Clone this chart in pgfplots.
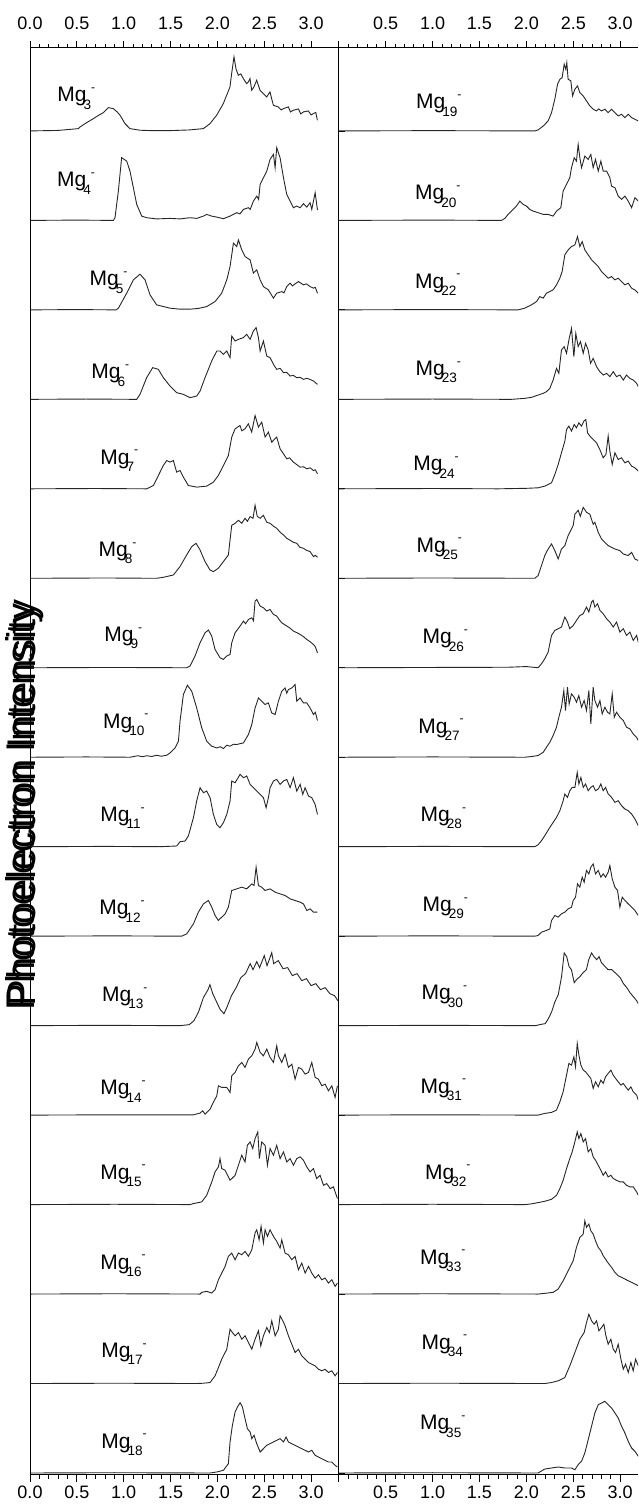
\documentclass[border=0pt]{standalone}
\usepackage{pgfplots}
\pgfplotsset{compat=1.18}
\usepackage{fontspec}
\setmainfont{Liberation Sans}
\newcommand{\mg}[1]{Mg\kern-1.5pt\raisebox{-3.6pt}{\fontsize{6.8}{7}\selectfont #1}\raisebox{5.2pt}{\fontsize{6}{7}\selectfont -}}
\newcommand{\spec}[2]{\addplot[black!85, line width=0.45pt, no marks] table[header=false,row sep=\\,y expr=\thisrowno{1}+#1]{#2};}
\pgfplotsset{
  base/.style={scale only axis, height=713.5pt, ymin=-2, ymax=1425,
    tick align=outside, major tick length=3.5pt, minor tick length=2pt,
    minor x tick num=4, axis line style={line width=0.5pt},
    every tick/.style={black, line width=0.4pt},
    xticklabel style={font=\fontsize{9}{10}\selectfont, inner sep=1pt},
    anchor=south west, clip=true},
  colL/.style={base, at={(15pt,17.5pt)}, width=154pt, xmin=0, xmax=3.287,
    xtick={0,0.5,1,1.5,2,2.5,3}, xticklabels={0.0,0.5,1.0,1.5,2.0,2.5,3.0}},
  colR/.style={base, at={(169pt,17.5pt)}, width=150pt, xmin=-0.0085, xmax=3.19,
    xtick={0,0.5,1,1.5,2,2.5,3}, xticklabels={,0.5,1.0,1.5,2.0,2.5,3.0},
    axis x line*=box, axis y line*=left, ytick=\empty},
  lowlab/.style={xticklabel style={yshift=-1pt}},
  toplab/.style={xticklabel pos=upper, xticklabel style={yshift=4.5pt}},
}
\begin{document}
\begin{tikzpicture}[x=1pt,y=1pt]
\useasboundingbox (0,0) rectangle (319,755);
% y label (drawn twice, slightly offset, as in the reference)
\node[rotate=90, inner sep=0, font=\fontsize{20}{22}\selectfont] at (12,351.5) {Photoelectron Intensity};
\node[rotate=90, inner sep=0, font=\fontsize{20}{22}\selectfont] at (12.6,353.5) {Photoelectron Intensity};
% ---------------- left column ----------------
\begin{axis}[colL, lowlab, ytick={0,89.47,178.94,268.41,357.88,447.35,536.82,626.29,715.76,805.23,894.7,984.17,1073.64,1163.11,1252.58,1342.05}, ytick pos=right, yticklabels={}]
\spec{1342.05}{0 0\\ 0.3 0.5\\ 0.516 2.3\\ 0.534 4\\ 0.6 8\\ 0.676 12.3\\ 0.73 15.5\\ 0.783 18.3\\ 0.836 23.3\\ 0.889 22.3\\ 0.93 19\\ 0.961 15.7\\ 1.014 7.3\\ 1.067 2.3\\ 1.174 0.7\\ 1.3 0.3\\ 1.494 0.3\\ 1.7 1\\ 1.85 2.3\\ 1.921 7.3\\ 1.992 15.7\\ 2.063 27.3\\ 2.134 44\\ 2.152 57.3\\ 2.177 74\\ 2.198 62.3\\ 2.223 55.7\\ 2.25 57\\ 2.277 52.3\\ 2.312 47.3\\ 2.33 49\\ 2.348 52.3\\ 2.366 40.7\\ 2.39 44\\ 2.419 50.7\\ 2.455 40.7\\ 2.49 37.3\\ 2.526 34\\ 2.561 39\\ 2.597 25.7\\ 2.65 24\\ 2.68 21\\ 2.704 22.3\\ 2.757 24\\ 2.78 19\\ 2.81 20.7\\ 2.864 22\\ 2.89 17\\ 2.917 19\\ 2.97 20\\ 3.0 16\\ 3.024 17.3\\ 3.05 18.5\\ 3.067 10.7\\}
\spec{1252.58}{0 0\\ 0.5 0.3\\ 0.89 0\\ 0.907 2.7\\ 0.943 29.3\\ 0.978 62.7\\ 1.032 59.3\\ 1.067 49.3\\ 1.103 32.7\\ 1.139 16\\ 1.192 4.3\\ 1.245 2.7\\ 1.35 1.5\\ 1.494 2\\ 1.6 1.5\\ 1.708 2.7\\ 1.78 2\\ 1.85 4.3\\ 1.886 6\\ 1.939 4.3\\ 1.993 3.3\\ 2.064 1.7\\ 2.135 4.3\\ 2.206 7.7\\ 2.24 6.5\\ 2.278 11\\ 2.331 12.7\\ 2.35 11\\ 2.384 19.3\\ 2.42 24.3\\ 2.44 21\\ 2.456 36\\ 2.491 42.7\\ 2.527 49.3\\ 2.562 61\\ 2.598 66\\ 2.616 52.7\\ 2.633 72.7\\ 2.669 62.7\\ 2.705 42.7\\ 2.74 26\\ 2.776 19.3\\ 2.811 12.7\\ 2.847 14.3\\ 2.883 12.7\\ 2.918 16.7\\ 2.954 13.3\\ 2.989 17.7\\ 3.007 11\\ 3.043 27.7\\ 3.068 10.3\\}
\spec{1163.11}{0 0\\ 0.5 0.3\\ 0.92 0\\ 0.943 1.7\\ 1.032 16.7\\ 1.103 30\\ 1.174 35.7\\ 1.228 30\\ 1.281 15\\ 1.352 5\\ 1.494 1.7\\ 1.6 0.7\\ 1.708 0.7\\ 1.8 1.5\\ 1.886 3.3\\ 1.975 8.3\\ 2.046 16.7\\ 2.1 30\\ 2.135 43.3\\ 2.171 66.7\\ 2.206 63.3\\ 2.224 70\\ 2.26 60\\ 2.295 53.3\\ 2.349 50\\ 2.384 36.7\\ 2.42 40\\ 2.456 30\\ 2.491 23.3\\ 2.544 20\\ 2.598 11.7\\ 2.633 16.7\\ 2.687 18.3\\ 2.71 17\\ 2.74 23.3\\ 2.776 26.7\\ 2.8 24\\ 2.829 26\\ 2.865 28.3\\ 2.918 25\\ 2.95 26\\ 2.989 23.3\\ 3.025 21.7\\ 3.045 22.5\\ 3.068 16.7\\}
\spec{1073.64}{0 0\\ 0.6 0.3\\ 1.139 0\\ 1.174 5\\ 1.245 21.7\\ 1.309 31.7\\ 1.37 30\\ 1.423 21.7\\ 1.494 13.3\\ 1.565 6.7\\ 1.637 5\\ 1.708 1.7\\ 1.779 3.3\\ 1.815 8.3\\ 1.868 21.7\\ 1.939 38.3\\ 1.993 48.3\\ 2.028 48.3\\ 2.064 45\\ 2.1 48.3\\ 2.135 41.7\\ 2.153 63.3\\ 2.189 58.3\\ 2.224 60\\ 2.278 61.7\\ 2.313 65\\ 2.349 60\\ 2.384 68.3\\ 2.413 71.7\\ 2.438 61.7\\ 2.456 48.3\\ 2.491 58.3\\ 2.527 43.3\\ 2.562 41.7\\ 2.598 35\\ 2.633 30\\ 2.67 31\\ 2.705 26.7\\ 2.74 27\\ 2.776 23.3\\ 2.81 24\\ 2.847 21.7\\ 2.883 22\\ 2.918 20\\ 2.954 21\\ 2.989 20\\ 3.025 18.3\\ 3.068 15\\}
\spec{984.17}{0 0\\ 0.7 0.3\\ 1.245 0\\ 1.317 3.3\\ 1.37 13.3\\ 1.423 23.3\\ 1.459 28.3\\ 1.494 26.7\\ 1.53 28.3\\ 1.565 16.7\\ 1.601 18.3\\ 1.637 11.7\\ 1.69 3.3\\ 1.779 1.7\\ 1.886 2.7\\ 1.957 6.7\\ 2.01 13.3\\ 2.064 23.3\\ 2.117 33.3\\ 2.153 51.7\\ 2.189 60\\ 2.241 63.3\\ 2.26 58\\ 2.295 60\\ 2.33 65\\ 2.366 56.7\\ 2.402 73.3\\ 2.438 61.7\\ 2.473 66.7\\ 2.509 51.7\\ 2.544 56.7\\ 2.58 46.7\\ 2.633 51.7\\ 2.669 40\\ 2.705 35\\ 2.74 30\\ 2.77 31\\ 2.811 26.7\\ 2.85 24\\ 2.883 21.7\\ 2.92 22\\ 2.954 20\\ 2.99 21\\ 3.025 18.3\\ 3.045 19\\ 3.068 15\\}
\spec{894.7}{0 0\\ 0.8 0.3\\ 1.352 0\\ 1.423 1\\ 1.53 3.3\\ 1.601 11.7\\ 1.672 23.3\\ 1.726 31.7\\ 1.772 35\\ 1.815 28.3\\ 1.868 16.7\\ 1.921 8.3\\ 1.957 6.7\\ 2.01 10\\ 2.064 16.7\\ 2.117 23.3\\ 2.135 38.3\\ 2.153 53\\ 2.19 55\\ 2.224 58\\ 2.26 55\\ 2.295 60\\ 2.32 57\\ 2.349 61.7\\ 2.38 60\\ 2.402 73\\ 2.425 62\\ 2.456 60\\ 2.491 63\\ 2.527 56\\ 2.562 55\\ 2.6 52\\ 2.633 50\\ 2.67 46\\ 2.705 43.3\\ 2.74 40\\ 2.776 38\\ 2.81 36\\ 2.847 35\\ 2.88 31\\ 2.918 30\\ 2.95 28\\ 2.989 26.7\\ 3.025 21.7\\ 3.045 23\\ 3.068 21\\}
\spec{805.23}{0 0\\ 0.9 0.3\\ 1.672 0\\ 1.708 1.7\\ 1.761 11.7\\ 1.815 25\\ 1.868 35\\ 1.904 37.7\\ 1.939 31.7\\ 1.975 18.3\\ 2.028 10\\ 2.064 8.3\\ 2.1 11.7\\ 2.135 13.3\\ 2.153 25\\ 2.189 35\\ 2.242 41.7\\ 2.278 46.7\\ 2.3 44\\ 2.331 48.3\\ 2.367 50\\ 2.385 47\\ 2.402 66.7\\ 2.42 68.3\\ 2.456 61.7\\ 2.491 60\\ 2.527 56.7\\ 2.562 58.3\\ 2.598 53.3\\ 2.633 51.7\\ 2.66 48\\ 2.687 45\\ 2.74 41.7\\ 2.77 40\\ 2.811 36.7\\ 2.85 35\\ 2.883 33.3\\ 2.92 31\\ 2.954 28.3\\ 2.99 26\\ 3.025 23.3\\ 3.045 21\\ 3.068 15\\}
\spec{715.76}{0 0\\ 0.6 0.3\\ 1.068 0\\ 1.15 1.5\\ 1.2 0.5\\ 1.245 1.5\\ 1.3 0.7\\ 1.35 2\\ 1.4 1\\ 1.459 2\\ 1.494 4.3\\ 1.548 9.3\\ 1.584 16\\ 1.601 36\\ 1.637 62.7\\ 1.68 72\\ 1.726 66\\ 1.779 49.3\\ 1.833 29.3\\ 1.886 16\\ 1.94 11\\ 1.993 9.3\\ 2.03 10.5\\ 2.064 8.7\\ 2.1 12\\ 2.135 11\\ 2.17 13\\ 2.206 12.7\\ 2.24 13.5\\ 2.278 14.3\\ 2.331 22.7\\ 2.367 32.7\\ 2.402 49.3\\ 2.438 59.3\\ 2.473 56\\ 2.509 52.7\\ 2.544 54.3\\ 2.58 44.3\\ 2.616 42.7\\ 2.651 56\\ 2.687 66\\ 2.722 69.3\\ 2.74 64\\ 2.758 67.7\\ 2.794 69.3\\ 2.829 72.7\\ 2.847 56\\ 2.883 59.3\\ 2.918 54.3\\ 2.954 54.3\\ 2.989 49.3\\ 3.025 42.7\\ 3.045 45\\ 3.068 36.7\\}
\spec{626.29}{0 0\\ 0.8 0.3\\ 1.388 0\\ 1.566 0.7\\ 1.601 5\\ 1.655 5.7\\ 1.69 10.7\\ 1.744 29\\ 1.779 45.7\\ 1.815 59\\ 1.851 54\\ 1.886 55.7\\ 1.922 49\\ 1.957 32.3\\ 1.993 22.3\\ 2.028 19\\ 2.064 24\\ 2.1 32.3\\ 2.135 45.7\\ 2.153 65.7\\ 2.189 64\\ 2.242 72.3\\ 2.278 69\\ 2.313 70.7\\ 2.349 62.3\\ 2.384 59\\ 2.42 55.7\\ 2.456 52.3\\ 2.491 49\\ 2.52 39\\ 2.544 49\\ 2.562 59\\ 2.598 65.7\\ 2.633 67.3\\ 2.669 62.3\\ 2.705 65.7\\ 2.74 67.3\\ 2.776 59\\ 2.811 69\\ 2.847 55.7\\ 2.883 62.3\\ 2.911 52.3\\ 2.936 59\\ 2.972 50.7\\ 3.007 49\\ 3.043 42.3\\ 3.068 32.3\\}
\spec{536.82}{0 0\\ 0.9 0.3\\ 1.619 0\\ 1.673 2.3\\ 1.744 12.3\\ 1.797 24\\ 1.851 32.3\\ 1.904 35.7\\ 1.94 29\\ 1.975 20.7\\ 2.01 15.7\\ 2.046 19\\ 2.082 22.3\\ 2.117 29\\ 2.153 45.7\\ 2.206 47.3\\ 2.26 49\\ 2.313 47.3\\ 2.367 52.3\\ 2.391 50.7\\ 2.413 69\\ 2.438 50.7\\ 2.473 49\\ 2.509 45.7\\ 2.562 47.3\\ 2.616 44\\ 2.669 42.3\\ 2.722 40.7\\ 2.776 37.3\\ 2.829 35.7\\ 2.883 34\\ 2.918 32.3\\ 2.954 25.7\\ 2.989 27.3\\ 3.025 24\\ 3.068 24\\}
\spec{447.35}{0 0\\ 0.8 0.3\\ 1.6 0\\ 1.7 1\\ 1.75 5\\ 1.8 14\\ 1.85 28\\ 1.9 36\\ 1.92 41\\ 1.95 32\\ 2.0 22\\ 2.03 16\\ 2.07 12\\ 2.1 18\\ 2.15 30\\ 2.2 38\\ 2.25 48\\ 2.3 52\\ 2.35 62\\ 2.38 56\\ 2.42 64\\ 2.45 58\\ 2.5 70\\ 2.53 60\\ 2.58 73\\ 2.6 62\\ 2.65 65\\ 2.7 57\\ 2.75 58\\ 2.8 50\\ 2.85 52\\ 2.9 45\\ 2.95 47\\ 3.0 40\\ 3.05 42\\ 3.1 36\\ 3.15 38\\ 3.2 32\\ 3.25 30\\ 3.285 25\\}
\spec{357.88}{0 0\\ 0.9 0.3\\ 1.744 0.3\\ 1.815 2\\ 1.843 4.3\\ 1.868 1\\ 1.922 6\\ 1.957 12.7\\ 1.993 19.3\\ 2.011 29.3\\ 2.046 27.7\\ 2.1 27.7\\ 2.135 22.7\\ 2.153 39.3\\ 2.189 42.7\\ 2.224 49.3\\ 2.26 52.7\\ 2.295 47.7\\ 2.331 56\\ 2.367 59.3\\ 2.402 66\\ 2.42 72.7\\ 2.456 62.7\\ 2.491 59.3\\ 2.527 66\\ 2.562 57.7\\ 2.598 52.7\\ 2.633 69.3\\ 2.651 59.3\\ 2.687 52.7\\ 2.722 61\\ 2.758 47.7\\ 2.794 51\\ 2.829 36\\ 2.865 47.7\\ 2.9 46\\ 2.936 41\\ 2.972 42.7\\ 3.007 52.7\\ 3.043 37.7\\ 3.078 36\\ 3.114 29.3\\ 3.149 31\\ 3.185 24.3\\ 3.221 29.3\\ 3.256 17.7\\ 3.281 29.3\\}
\spec{268.41}{0 0\\ 0.9 0.3\\ 1.708 0\\ 1.744 1\\ 1.833 2.7\\ 1.886 9.3\\ 1.94 22.7\\ 1.975 32.7\\ 2.011 37.7\\ 2.028 46\\ 2.046 36\\ 2.082 34.3\\ 2.135 24.3\\ 2.189 29.3\\ 2.224 39.3\\ 2.26 49.3\\ 2.295 42.7\\ 2.32 59.3\\ 2.349 62.7\\ 2.377 56\\ 2.402 66\\ 2.431 72.7\\ 2.448 46\\ 2.473 62.7\\ 2.509 59.3\\ 2.534 39.3\\ 2.562 56\\ 2.598 49.3\\ 2.633 59.3\\ 2.669 46\\ 2.705 52.7\\ 2.74 42.7\\ 2.776 46\\ 2.811 39.3\\ 2.847 46\\ 2.883 47.7\\ 2.918 44.3\\ 2.954 37.7\\ 2.989 32.7\\ 3.025 36\\ 3.06 26\\ 3.096 29.3\\ 3.132 19.3\\ 3.167 21\\ 3.203 16\\ 3.238 17.7\\ 3.281 6\\}
\spec{178.94}{0 0\\ 0.9 0.3\\ 1.815 0\\ 1.833 1.7\\ 1.886 2.7\\ 1.94 1\\ 1.975 4.3\\ 2.011 14.3\\ 2.046 21\\ 2.082 27.7\\ 2.117 37.7\\ 2.153 41\\ 2.189 34.3\\ 2.224 41\\ 2.26 39.3\\ 2.295 42.7\\ 2.331 37.7\\ 2.367 44.3\\ 2.402 61\\ 2.42 64.3\\ 2.445 54.3\\ 2.466 67.7\\ 2.491 51\\ 2.509 64.3\\ 2.534 57.7\\ 2.562 64.3\\ 2.598 57.7\\ 2.633 52.7\\ 2.669 46\\ 2.687 54.3\\ 2.722 41\\ 2.758 39.3\\ 2.794 34.3\\ 2.829 37.7\\ 2.865 24.3\\ 2.9 31\\ 2.936 21\\ 2.972 27.7\\ 3.007 21\\ 3.043 16\\ 3.078 19.3\\ 3.114 14.3\\ 3.149 16\\ 3.185 11\\ 3.221 14.3\\ 3.256 7.7\\ 3.281 11\\}
\spec{89.47}{0 0\\ 0.9 0.3\\ 1.779 0\\ 1.851 0.3\\ 1.922 1\\ 1.975 7.7\\ 2.011 16\\ 2.046 24.3\\ 2.1 34.3\\ 2.135 54.3\\ 2.16 51\\ 2.189 47.7\\ 2.224 51\\ 2.26 44.3\\ 2.295 47.7\\ 2.331 41\\ 2.367 34.3\\ 2.402 44.3\\ 2.438 52.7\\ 2.463 37.7\\ 2.491 47.7\\ 2.527 56\\ 2.555 51\\ 2.58 62.7\\ 2.616 47.7\\ 2.651 54.3\\ 2.669 67.7\\ 2.698 62.7\\ 2.722 57.7\\ 2.758 47.7\\ 2.794 39.3\\ 2.829 31\\ 2.865 34.3\\ 2.9 27.7\\ 2.936 24.3\\ 2.972 21\\ 3.007 19.3\\ 3.043 17.7\\ 3.078 14.3\\ 3.114 12.7\\ 3.149 14.3\\ 3.185 11\\ 3.221 12.7\\ 3.256 7.7\\ 3.281 11\\}
\spec{0}{0 0\\ 0.9 0.3\\ 1.922 0\\ 1.993 1\\ 2.064 2.7\\ 2.117 9.3\\ 2.135 31\\ 2.16 47.7\\ 2.189 61\\ 2.214 66\\ 2.242 70.3\\ 2.267 66\\ 2.295 54.3\\ 2.32 44.3\\ 2.349 41\\ 2.367 34.3\\ 2.391 37.7\\ 2.42 29.3\\ 2.456 21\\ 2.491 24.3\\ 2.527 27.7\\ 2.562 29.3\\ 2.598 31\\ 2.633 32.7\\ 2.669 34.3\\ 2.705 31\\ 2.733 36\\ 2.758 31\\ 2.794 29.3\\ 2.829 27.7\\ 2.865 26\\ 2.9 24.3\\ 2.936 22.7\\ 2.972 21\\ 3.007 22.7\\ 3.043 17.7\\ 3.078 16\\ 3.114 14.3\\ 3.149 12.7\\ 3.185 11\\ 3.221 11\\ 3.256 7.7\\ 3.281 6\\}
\node[anchor=base west,inner sep=0,font=\fontsize{10.5}{12}\selectfont] at (axis cs:0.288,1371) {\mg{3}};
\node[anchor=base west,inner sep=0,font=\fontsize{10.5}{12}\selectfont] at (axis cs:0.285,1286) {\mg{4}};
\node[anchor=base west,inner sep=0,font=\fontsize{10.5}{12}\selectfont] at (axis cs:0.633,1187) {\mg{5}};
\node[anchor=base west,inner sep=0,font=\fontsize{10.5}{12}\selectfont] at (axis cs:0.651,1094) {\mg{6}};
\node[anchor=base west,inner sep=0,font=\fontsize{10.5}{12}\selectfont] at (axis cs:0.747,1008.7) {\mg{7}};
\node[anchor=base west,inner sep=0,font=\fontsize{10.5}{12}\selectfont] at (axis cs:0.729,916.3) {\mg{8}};
\node[anchor=base west,inner sep=0,font=\fontsize{10.5}{12}\selectfont] at (axis cs:0.79,831.3) {\mg{9}};
\node[anchor=base west,inner sep=0,font=\fontsize{10.5}{12}\selectfont] at (axis cs:0.776,744.7) {\mg{10}};
\node[anchor=base west,inner sep=0,font=\fontsize{10.5}{12}\selectfont] at (axis cs:0.747,651.3) {\mg{11}};
\node[anchor=base west,inner sep=0,font=\fontsize{10.5}{12}\selectfont] at (axis cs:0.736,558) {\mg{12}};
\node[anchor=base west,inner sep=0,font=\fontsize{10.5}{12}\selectfont] at (axis cs:0.765,471.3) {\mg{13}};
\node[anchor=base west,inner sep=0,font=\fontsize{10.5}{12}\selectfont] at (axis cs:0.747,378) {\mg{14}};
\node[anchor=base west,inner sep=0,font=\fontsize{10.5}{12}\selectfont] at (axis cs:0.747,293.7) {\mg{15}};
\node[anchor=base west,inner sep=0,font=\fontsize{10.5}{12}\selectfont] at (axis cs:0.747,203.7) {\mg{16}};
\node[anchor=base west,inner sep=0,font=\fontsize{10.5}{12}\selectfont] at (axis cs:0.758,115.3) {\mg{17}};
\node[anchor=base west,inner sep=0,font=\fontsize{10.5}{12}\selectfont] at (axis cs:0.758,24.7) {\mg{18}};
\end{axis}
\begin{axis}[colL, toplab, ytick=\empty]
\end{axis}
% ---------------- right column ----------------
\begin{axis}[colR, lowlab]
\spec{1342.05}{0 0\\ 1.0 0.3\\ 2.09 0\\ 2.125 1\\ 2.18 5\\ 2.232 10\\ 2.268 18.3\\ 2.303 31.7\\ 2.332 46.7\\ 2.357 51.7\\ 2.381 53.3\\ 2.403 66.7\\ 2.42 61.7\\ 2.431 68.3\\ 2.445 51.7\\ 2.474 50\\ 2.492 35\\ 2.517 41.7\\ 2.545 45\\ 2.57 38.3\\ 2.606 35\\ 2.641 30\\ 2.677 25\\ 2.712 21.7\\ 2.748 20\\ 2.77 22\\ 2.801 20\\ 2.837 21.7\\ 2.872 18.3\\ 2.908 21.7\\ 2.944 18.3\\ 2.979 15\\ 3.015 16.7\\ 3.05 13.3\\ 3.086 16.7\\ 3.122 13.3\\ 3.157 11.7\\ 3.193 10\\ 3.22 11\\}
\spec{1252.58}{0 0\\ 1.0 0.3\\ 1.734 0\\ 1.77 2\\ 1.805 6\\ 1.858 11\\ 1.894 14.3\\ 1.93 19.3\\ 1.965 16\\ 2.001 14.3\\ 2.036 11\\ 2.072 9.3\\ 2.125 7.7\\ 2.18 6\\ 2.232 6\\ 2.285 4.3\\ 2.321 9.3\\ 2.367 12.7\\ 2.392 29.3\\ 2.428 36\\ 2.463 42.7\\ 2.481 52.7\\ 2.51 62.7\\ 2.534 59.3\\ 2.552 76\\ 2.57 62.7\\ 2.588 52.7\\ 2.623 64.3\\ 2.659 61\\ 2.687 66\\ 2.712 52.7\\ 2.737 61\\ 2.766 49.3\\ 2.794 59.3\\ 2.819 49.3\\ 2.855 49.3\\ 2.89 42.7\\ 2.908 34.3\\ 2.944 32.7\\ 2.979 24.3\\ 3.015 21\\ 3.05 24.3\\ 3.086 19.3\\ 3.122 12.7\\ 3.157 22.7\\ 3.193 19.3\\ 3.22 17\\}
\spec{1163.11}{0 0\\ 1.0 0.3\\ 1.912 0\\ 1.983 1.7\\ 2.054 5\\ 2.108 8.3\\ 2.143 13.3\\ 2.179 11.7\\ 2.214 16.7\\ 2.25 18.3\\ 2.285 20\\ 2.321 25\\ 2.357 31.7\\ 2.381 38.3\\ 2.41 55\\ 2.446 60\\ 2.481 63.3\\ 2.517 65\\ 2.545 73.3\\ 2.57 63.3\\ 2.595 68.3\\ 2.623 60\\ 2.659 55\\ 2.695 50\\ 2.73 46.7\\ 2.766 43.3\\ 2.801 38.3\\ 2.837 35\\ 2.872 31.7\\ 2.908 33.3\\ 2.944 30\\ 2.979 31.7\\ 3.015 28.3\\ 3.05 25\\ 3.086 26.7\\ 3.122 21.7\\ 3.157 20\\ 3.193 16.7\\ 3.22 15\\}
\spec{1073.64}{0 0\\ 1.0 0.3\\ 1.84 0\\ 1.983 1\\ 2.054 2\\ 2.125 4.3\\ 2.18 6\\ 2.214 7.7\\ 2.25 11\\ 2.285 19.3\\ 2.321 31\\ 2.346 26\\ 2.374 49.3\\ 2.403 52.7\\ 2.428 46\\ 2.453 59.3\\ 2.481 71\\ 2.506 42.7\\ 2.527 66\\ 2.552 52.7\\ 2.577 57.7\\ 2.606 46\\ 2.631 56\\ 2.659 49.3\\ 2.684 36\\ 2.712 41\\ 2.748 32.7\\ 2.783 27.7\\ 2.819 24.3\\ 2.855 26\\ 2.89 22.7\\ 2.926 27.7\\ 2.961 22.7\\ 2.997 24.3\\ 3.033 19.3\\ 3.068 24.3\\ 3.104 21\\ 3.139 19.3\\ 3.175 16\\ 3.193 12.7\\ 3.22 14\\}
\spec{984.17}{0 0\\ 1.0 0.3\\ 1.698 0\\ 2.0 0.5\\ 2.125 1\\ 2.196 2.7\\ 2.268 6\\ 2.303 14.3\\ 2.339 24.3\\ 2.374 36\\ 2.41 47.7\\ 2.428 59.3\\ 2.453 62.7\\ 2.481 57.7\\ 2.51 64.3\\ 2.534 61\\ 2.559 66\\ 2.588 62.7\\ 2.613 67.7\\ 2.634 69.3\\ 2.652 56\\ 2.677 52.7\\ 2.712 49.3\\ 2.748 46\\ 2.783 39.3\\ 2.819 31\\ 2.848 34.3\\ 2.872 52.7\\ 2.89 37.7\\ 2.915 24.3\\ 2.944 36\\ 2.979 29.3\\ 3.015 31\\ 3.05 26\\ 3.086 27.7\\ 3.122 22.7\\ 3.157 21\\ 3.193 17.7\\ 3.22 16\\}
\spec{894.7}{0 0\\ 1.0 0.3\\ 2.09 0\\ 2.125 2.7\\ 2.161 12.7\\ 2.196 22.7\\ 2.232 29.3\\ 2.268 34.3\\ 2.303 27.7\\ 2.339 19.3\\ 2.374 29.3\\ 2.41 32.7\\ 2.445 42.7\\ 2.481 49.3\\ 2.499 52.7\\ 2.517 64\\ 2.552 68\\ 2.575 62\\ 2.606 71\\ 2.641 66\\ 2.677 64\\ 2.712 54\\ 2.73 56\\ 2.766 46\\ 2.801 39.3\\ 2.837 36\\ 2.872 32.7\\ 2.908 31\\ 2.944 29.3\\ 2.997 27.7\\ 3.033 24.3\\ 3.086 22.7\\ 3.122 26\\ 3.157 19.3\\ 3.193 17.7\\ 3.22 16\\}
\spec{805.23}{0 0\\ 1.0 0.3\\ 1.8 0.5\\ 2.0 1.2\\ 2.125 0\\ 2.161 4\\ 2.196 9\\ 2.232 15.7\\ 2.268 32.3\\ 2.303 37.3\\ 2.339 39\\ 2.374 40.7\\ 2.41 50.7\\ 2.438 45.7\\ 2.463 39\\ 2.499 42.3\\ 2.534 47.3\\ 2.57 52.3\\ 2.606 54\\ 2.641 60.7\\ 2.666 55.7\\ 2.695 65.7\\ 2.712 67.3\\ 2.73 60.7\\ 2.759 64\\ 2.784 57.3\\ 2.819 54\\ 2.855 49\\ 2.89 45.7\\ 2.926 40.7\\ 2.961 45.7\\ 2.997 35.7\\ 3.033 39\\ 3.068 32.3\\ 3.104 35.7\\ 3.139 27.3\\ 3.175 32.3\\ 3.193 25.7\\ 3.22 27\\}
\spec{715.76}{0 0\\ 1.0 0.3\\ 1.983 0\\ 2.054 0.7\\ 2.125 1.7\\ 2.18 5\\ 2.214 10\\ 2.25 15\\ 2.285 21.7\\ 2.321 30\\ 2.346 40\\ 2.374 50\\ 2.399 66.7\\ 2.417 46.7\\ 2.438 70\\ 2.456 53.3\\ 2.481 63.3\\ 2.51 60\\ 2.534 55\\ 2.559 61.7\\ 2.588 50\\ 2.616 56.7\\ 2.641 46.7\\ 2.666 66.7\\ 2.687 33.3\\ 2.712 70\\ 2.73 56.7\\ 2.759 50\\ 2.784 56.7\\ 2.808 43.3\\ 2.837 50\\ 2.865 45\\ 2.89 43.3\\ 2.915 63.3\\ 2.937 40\\ 2.961 45\\ 2.997 40\\ 3.033 36.7\\ 3.068 30\\ 3.104 28.3\\ 3.139 23.3\\ 3.175 20\\ 3.193 16.7\\ 3.22 15\\}
\spec{626.29}{0 0\\ 1.0 0.3\\ 2.09 0\\ 2.125 2\\ 2.161 6\\ 2.196 11\\ 2.25 19.3\\ 2.285 24.3\\ 2.321 29.3\\ 2.357 36\\ 2.392 46\\ 2.41 52.7\\ 2.438 49.3\\ 2.463 56\\ 2.488 59.3\\ 2.517 59.3\\ 2.542 74.3\\ 2.56 62.7\\ 2.581 69.3\\ 2.606 59.3\\ 2.631 62.7\\ 2.659 56\\ 2.687 59.3\\ 2.712 61\\ 2.737 56\\ 2.766 57.7\\ 2.794 62.7\\ 2.819 56\\ 2.844 59.3\\ 2.872 52.7\\ 2.908 49.3\\ 2.944 44.3\\ 2.979 46\\ 3.015 41\\ 3.05 37.7\\ 3.086 36\\ 3.122 32.7\\ 3.157 27.7\\ 3.193 21\\ 3.22 18\\}
\spec{536.82}{0 0\\ 1.0 0.3\\ 2.09 0\\ 2.125 0.7\\ 2.161 4\\ 2.214 5.7\\ 2.25 7.3\\ 2.268 15.7\\ 2.303 20.7\\ 2.339 19\\ 2.374 22.3\\ 2.41 24\\ 2.445 27.3\\ 2.481 29\\ 2.499 35.7\\ 2.524 39\\ 2.545 52.3\\ 2.57 49\\ 2.595 59\\ 2.616 54\\ 2.641 65.7\\ 2.666 62.3\\ 2.687 69\\ 2.712 72.3\\ 2.737 62.3\\ 2.766 65.7\\ 2.794 59\\ 2.819 62.3\\ 2.844 59\\ 2.872 64\\ 2.89 70.7\\ 2.915 57.3\\ 2.944 49\\ 2.972 45.7\\ 2.997 29\\ 3.022 39\\ 3.05 35.7\\ 3.086 32.3\\ 3.122 29\\ 3.157 25.7\\ 3.193 20.7\\ 3.22 19\\}
\spec{447.35}{0 0\\ 1.0 0.3\\ 2.1 0\\ 2.14 1\\ 2.2 2\\ 2.235 7\\ 2.27 14\\ 2.305 24\\ 2.34 31\\ 2.375 49\\ 2.403 72.7\\ 2.43 69\\ 2.455 59\\ 2.48 56\\ 2.51 43\\ 2.535 46\\ 2.57 49\\ 2.605 53\\ 2.64 56\\ 2.665 66\\ 2.695 72.7\\ 2.72 69\\ 2.75 66\\ 2.775 69\\ 2.8 63\\ 2.84 59\\ 2.87 56\\ 2.91 56\\ 2.945 53\\ 3.0 48\\ 3.035 42\\ 3.07 38\\ 3.105 33\\ 3.14 29\\ 3.175 25\\ 3.193 22\\ 3.22 21\\}
\spec{357.88}{0 0\\ 1.0 0.3\\ 2.125 0\\ 2.196 1.7\\ 2.268 2.7\\ 2.321 5\\ 2.357 13.3\\ 2.392 23.3\\ 2.428 40\\ 2.453 51.7\\ 2.481 50\\ 2.506 58.3\\ 2.524 48.3\\ 2.542 71.7\\ 2.56 60\\ 2.581 50\\ 2.606 45\\ 2.631 43.3\\ 2.659 40\\ 2.687 36.7\\ 2.712 26.7\\ 2.737 33.3\\ 2.766 28.3\\ 2.794 35\\ 2.819 31.7\\ 2.844 38.3\\ 2.872 41.7\\ 2.901 45\\ 2.926 40\\ 2.951 36.7\\ 2.979 33.3\\ 3.008 30\\ 3.033 31.7\\ 3.058 28.3\\ 3.086 25\\ 3.114 28.3\\ 3.139 23.3\\ 3.175 20\\ 3.193 15\\ 3.22 14\\}
\spec{268.41}{0 0\\ 1.0 0.3\\ 1.983 0\\ 2.054 0.7\\ 2.125 2\\ 2.196 3.3\\ 2.268 5.3\\ 2.321 9.3\\ 2.357 16\\ 2.392 24.3\\ 2.428 36\\ 2.463 46\\ 2.488 52.7\\ 2.517 62.7\\ 2.542 72.7\\ 2.56 66\\ 2.581 71\\ 2.606 62.7\\ 2.631 66\\ 2.659 52.7\\ 2.687 56\\ 2.712 47.7\\ 2.737 44.3\\ 2.766 39.3\\ 2.794 34.3\\ 2.819 29.3\\ 2.844 32.7\\ 2.872 27.7\\ 2.901 29.3\\ 2.926 26\\ 2.961 24.3\\ 2.997 22.7\\ 3.033 22.7\\ 3.068 19.3\\ 3.104 17.7\\ 3.139 17.7\\ 3.175 12.7\\ 3.193 9.3\\ 3.22 9\\}
\spec{178.94}{0 0\\ 1.0 0.3\\ 2.125 0\\ 2.196 0.7\\ 2.285 1.7\\ 2.339 5\\ 2.392 13.3\\ 2.446 23.3\\ 2.499 33.3\\ 2.534 46.7\\ 2.57 56.7\\ 2.606 60\\ 2.623 73.3\\ 2.641 66.7\\ 2.666 70\\ 2.687 63.3\\ 2.712 60\\ 2.737 53.3\\ 2.766 46.7\\ 2.794 43.3\\ 2.819 38.3\\ 2.855 33.3\\ 2.88 30\\ 2.908 26.7\\ 2.944 21.7\\ 2.979 18.3\\ 3.015 16.7\\ 3.05 15\\ 3.086 13.3\\ 3.122 11.7\\ 3.157 10\\ 3.193 8.3\\ 3.22 8\\}
\spec{89.47}{0 0\\ 1.0 0.3\\ 2.196 0\\ 2.268 1\\ 2.339 2.7\\ 2.41 6\\ 2.463 17.7\\ 2.517 31\\ 2.57 44.3\\ 2.616 51\\ 2.641 61\\ 2.666 69.3\\ 2.695 62.7\\ 2.723 59.3\\ 2.748 62.7\\ 2.773 52.7\\ 2.801 56\\ 2.826 59.3\\ 2.848 47.7\\ 2.872 39.3\\ 2.901 44.3\\ 2.926 34.3\\ 2.951 31\\ 2.979 39.3\\ 3.008 24.3\\ 3.033 14.3\\ 3.058 19.3\\ 3.086 11\\ 3.114 21\\ 3.139 12.7\\ 3.164 24.3\\ 3.193 17.7\\ 3.22 15\\}
\spec{0}{0 0\\ 1.0 0.3\\ 2.125 0\\ 2.196 4\\ 2.268 5\\ 2.339 6\\ 2.41 5\\ 2.481 5\\ 2.517 3.3\\ 2.552 8.3\\ 2.588 11.7\\ 2.623 20\\ 2.659 33.3\\ 2.695 46.7\\ 2.73 60\\ 2.766 68.3\\ 2.801 70\\ 2.837 71.7\\ 2.872 68.3\\ 2.908 65\\ 2.944 60\\ 2.979 55\\ 3.015 46.7\\ 3.05 40\\ 3.086 31.7\\ 3.122 25\\ 3.157 21.7\\ 3.193 16.7\\ 3.22 15\\}
\node[anchor=base west,inner sep=0,font=\fontsize{10.5}{12}\selectfont] at (axis cs:0.82,1364) {\mg{19}};
\node[anchor=base west,inner sep=0,font=\fontsize{10.5}{12}\selectfont] at (axis cs:0.809,1273) {\mg{20}};
\node[anchor=base west,inner sep=0,font=\fontsize{10.5}{12}\selectfont] at (axis cs:0.81,1184.7) {\mg{22}};
\node[anchor=base west,inner sep=0,font=\fontsize{10.5}{12}\selectfont] at (axis cs:0.815,1097.3) {\mg{23}};
\node[anchor=base west,inner sep=0,font=\fontsize{10.5}{12}\selectfont] at (axis cs:0.791,1002) {\mg{24}};
\node[anchor=base west,inner sep=0,font=\fontsize{10.5}{12}\selectfont] at (axis cs:0.826,920.7) {\mg{25}};
\node[anchor=base west,inner sep=0,font=\fontsize{10.5}{12}\selectfont] at (axis cs:0.89,829) {\mg{26}};
\node[anchor=base west,inner sep=0,font=\fontsize{10.5}{12}\selectfont] at (axis cs:0.844,739.7) {\mg{27}};
\node[anchor=base west,inner sep=0,font=\fontsize{10.5}{12}\selectfont] at (axis cs:0.869,651.3) {\mg{28}};
\node[anchor=base west,inner sep=0,font=\fontsize{10.5}{12}\selectfont] at (axis cs:0.89,561.3) {\mg{29}};
\node[anchor=base west,inner sep=0,font=\fontsize{10.5}{12}\selectfont] at (axis cs:0.88,473) {\mg{30}};
\node[anchor=base west,inner sep=0,font=\fontsize{10.5}{12}\selectfont] at (axis cs:0.869,379.7) {\mg{31}};
\node[anchor=base west,inner sep=0,font=\fontsize{10.5}{12}\selectfont] at (axis cs:0.916,293.7) {\mg{32}};
\node[anchor=base west,inner sep=0,font=\fontsize{10.5}{12}\selectfont] at (axis cs:0.862,208.7) {\mg{33}};
\node[anchor=base west,inner sep=0,font=\fontsize{10.5}{12}\selectfont] at (axis cs:0.88,123.7) {\mg{34}};
\node[anchor=base west,inner sep=0,font=\fontsize{10.5}{12}\selectfont] at (axis cs:0.862,43) {\mg{35}};
\end{axis}
\begin{axis}[colR, toplab]
\end{axis}
\end{tikzpicture}
\end{document}
